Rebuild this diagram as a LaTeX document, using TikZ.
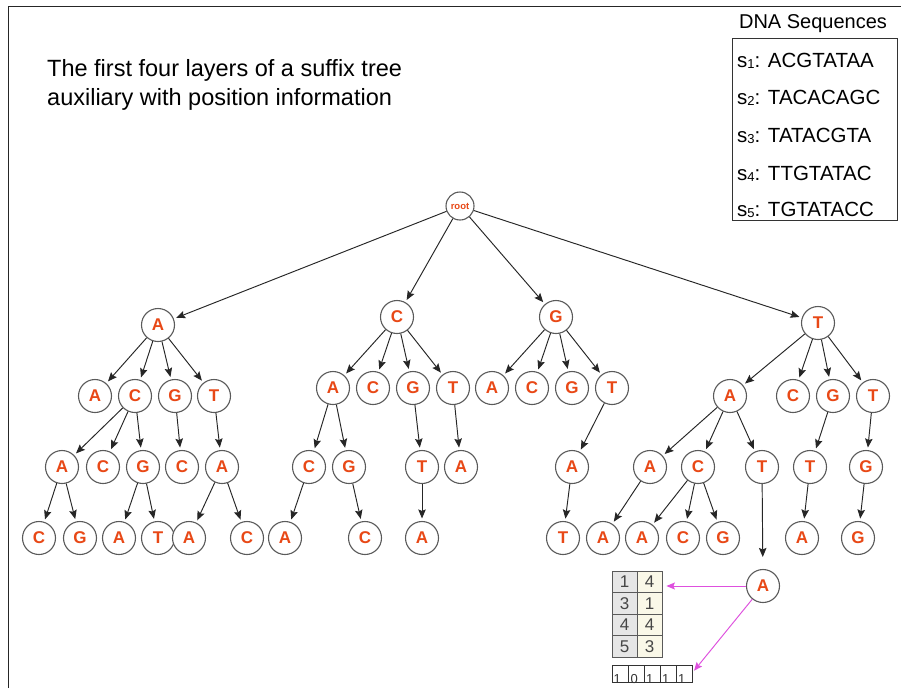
\documentclass[tikz,border=0pt]{standalone}
\usepackage{fontspec}
\setmainfont{Liberation Sans}
\usetikzlibrary{arrows.meta,calc}
\definecolor{nodered}{RGB}{232,72,22}
\definecolor{ringgray}{RGB}{90,90,90}
\definecolor{mag}{RGB}{222,80,222}
\definecolor{cellgray}{RGB}{230,230,230}
\definecolor{cellcream}{RGB}{250,248,232}
\definecolor{numgray}{RGB}{70,70,70}
\newcommand{\sq}[1]{\raisebox{-1pt}{\fontsize{13}{13}\selectfont #1}}
\tikzset{
  nd/.style={circle, draw=ringgray, line width=1.1pt, fill=white, minimum size=33pt, inner sep=0pt,
    font=\fontsize{17}{17}\selectfont\bfseries, text=nodered},
  rt/.style={nd, minimum size=28pt, font=\fontsize{9.5}{9.5}\selectfont\bfseries},
  arr/.style={-{Stealth[length=9pt,width=7.5pt,inset=1.5pt]}, line width=0.95pt, draw=black!85, shorten >=2.5pt},
  marr/.style={-{Stealth[length=8.5pt,width=7pt,inset=1.5pt]}, line width=0.95pt, draw=mag, shorten >=4pt},
  cellL/.style={draw=ringgray, line width=0.8pt, fill=cellgray, minimum width=25pt, minimum height=21.5pt, inner sep=0pt,
    font=\fontsize{17}{17}\selectfont, text=numgray},
  cellR/.style={cellL, fill=cellcream},
  bit/.style={draw=black!80, line width=0.8pt, minimum width=16pt, minimum height=17pt, inner sep=0pt},
  bittxt/.style={anchor=base west, inner sep=0pt, font=\fontsize{13}{13}\selectfont, text=black!80},
  seq/.style={anchor=base west, inner sep=0pt, font=\fontsize{20.5}{20.5}\selectfont}
}
\begin{document}
\begin{tikzpicture}[x=1pt,y=-1pt]
\useasboundingbox (0,0) rectangle (901,688);
\fill[white] (0,0) rectangle (901,688);
% frame
\draw[line width=1pt, black!85] (8,688) -- (8,6) -- (901,6);
% title
\node[anchor=base west, inner sep=0pt, font=\fontsize{23.5}{23.5}\selectfont] (t1) at (47,76) {The first four layers of a suffix tree};
\node[anchor=base west, inner sep=0pt, font=\fontsize{23.5}{23.5}\selectfont] (t2) at (47,105) {auxiliary with position information};
% DNA box
\node[anchor=base, inner sep=0pt, font=\fontsize{20}{20}\selectfont] (dnat) at (813,28) {DNA Sequences};
\node[draw=black!80, line width=0.9pt, minimum width=165pt, minimum height=182pt, inner sep=0pt] (dnabox) at (814.5,129) {};
\node[seq] (s1) at (737,67) {s\sq{1}: ACGTATAA};
\node[seq] (s2) at (737,104) {s\sq{2}: TACACAGC};
\node[seq] (s3) at (737,142) {s\sq{3}: TATACGTA};
\node[seq] (s4) at (737,180) {s\sq{4}: TTGTATAC};
\node[seq] (s5) at (737,216) {s\sq{5}: TGTATACC};
% tree nodes
\node[rt] (root) at (460,206) {root};
\node[nd] (A1) at (158,325) {A};
\node[nd] (C1) at (397,317) {C};
\node[nd] (G1) at (556,317) {G};
\node[nd] (T1) at (818,323) {T};
% A subtree
\node[nd] (AA) at (95,396) {A};
\node[nd] (AC) at (135,396) {C};
\node[nd] (AG) at (175,396) {G};
\node[nd] (AT) at (214,396) {T};
\node[nd] (ACA) at (62,467) {A};
\node[nd] (ACC) at (103,467) {C};
\node[nd] (ACG) at (143,467) {G};
\node[nd] (AGC) at (182,467) {C};
\node[nd] (ATA) at (222,467) {A};
\node[nd] (ACAC) at (39,538) {C};
\node[nd] (ACAG) at (80,538) {G};
\node[nd] (ACGA) at (119,538) {A};
\node[nd] (ACGT) at (158,538) {T};
\node[nd] (ATAA) at (189,538) {A};
\node[nd] (ATAC) at (247,538) {C};
% C subtree
\node[nd] (CA) at (333,388) {A};
\node[nd] (CC) at (373,388) {C};
\node[nd] (CG) at (413,388) {G};
\node[nd] (CT) at (453,388) {T};
\node[nd] (CAC) at (309,467) {C};
\node[nd] (CAG) at (349,467) {G};
\node[nd] (CGT) at (422,467) {T};
\node[nd] (CTA) at (461,467) {A};
\node[nd] (CACA) at (285,538) {A};
\node[nd] (CAGC) at (365,538) {C};
\node[nd] (CGTA) at (422,538) {A};
% G subtree
\node[nd] (GA) at (492,388) {A};
\node[nd] (GC) at (532,388) {C};
\node[nd] (GG) at (572,388) {G};
\node[nd] (GT) at (612,388) {T};
\node[nd] (GTA) at (572,467) {A};
\node[nd] (GTAT) at (563,538) {T};
% T subtree
\node[nd] (TA) at (730,396) {A};
\node[nd] (TC) at (793,396) {C};
\node[nd] (TG) at (833,396) {G};
\node[nd] (TT) at (873,396) {T};
\node[nd] (TAA) at (650,467) {A};
\node[nd] (TAC) at (698,467) {C};
\node[nd] (TAT) at (762,467) {T};
\node[nd] (TGT) at (810,467) {T};
\node[nd] (TTG) at (866,467) {G};
\node[nd] (TAAA) at (603,538) {A};
\node[nd] (TACA) at (642,538) {A};
\node[nd] (TACC) at (683,538) {C};
\node[nd] (TACG) at (723,538) {G};
\node[nd] (TGTA) at (802,538) {A};
\node[nd] (TTGG) at (858,538) {G};
\node[nd] (TATA) at (763,586) {A};
% edges
\foreach \p/\c in {root/A1,root/C1,root/G1,root/T1,
  A1/AA,A1/AC,A1/AG,A1/AT,AC/ACA,AC/ACC,AC/ACG,AG/AGC,AT/ATA,
  ACA/ACAC,ACA/ACAG,ACG/ACGA,ACG/ACGT,ATA/ATAA,ATA/ATAC,
  C1/CA,C1/CC,C1/CG,C1/CT,CA/CAC,CA/CAG,CG/CGT,CT/CTA,CAC/CACA,CAG/CAGC,CGT/CGTA,
  G1/GA,G1/GC,G1/GG,G1/GT,GT/GTA,GTA/GTAT,
  T1/TA,T1/TC,T1/TG,T1/TT,TA/TAA,TA/TAC,TA/TAT,TG/TGT,TT/TTG,
  TAA/TAAA,TAC/TACA,TAC/TACC,TAC/TACG,TGT/TGTA,TTG/TTGG}
  \draw[arr] (\p) -- (\c);
\draw[arr, shorten >=12pt] (TAT) -- (TATA);
% position table
\node[cellL] (r1a) at (624.5,581.75) {1};
\node[cellR] (r1b) at (649.5,581.75) {4};
\node[cellL] (r2a) at (624.5,603.25) {3};
\node[cellR] (r2b) at (649.5,603.25) {1};
\node[cellL] (r3a) at (624.5,624.75) {4};
\node[cellR] (r3b) at (649.5,624.75) {4};
\node[cellL] (r4a) at (624.5,646.25) {5};
\node[cellR] (r4b) at (649.5,646.25) {3};
% bit array
\node[bit] (b1) at (620,673.5) {};
\node[bit] (b2) at (636,673.5) {};
\node[bit] (b3) at (652,673.5) {};
\node[bit] (b4) at (668,673.5) {};
\node[bit] (b5) at (684,673.5) {};
\node[bittxt] (d1) at (613.5,683) {1};
\node[bittxt] (d2) at (630.5,683) {0};
\node[bittxt] (d3) at (646,683) {1};
\node[bittxt] (d4) at (662,683) {1};
\node[bittxt] (d5) at (678,683) {1};
% magenta arrows
\draw[marr] (TATA) -- (TATA -| r1b.east);
\draw[marr, shorten >=1pt] (TATA) -- ($(b5.east)+(1,-2)$);
\end{tikzpicture}
\end{document}
